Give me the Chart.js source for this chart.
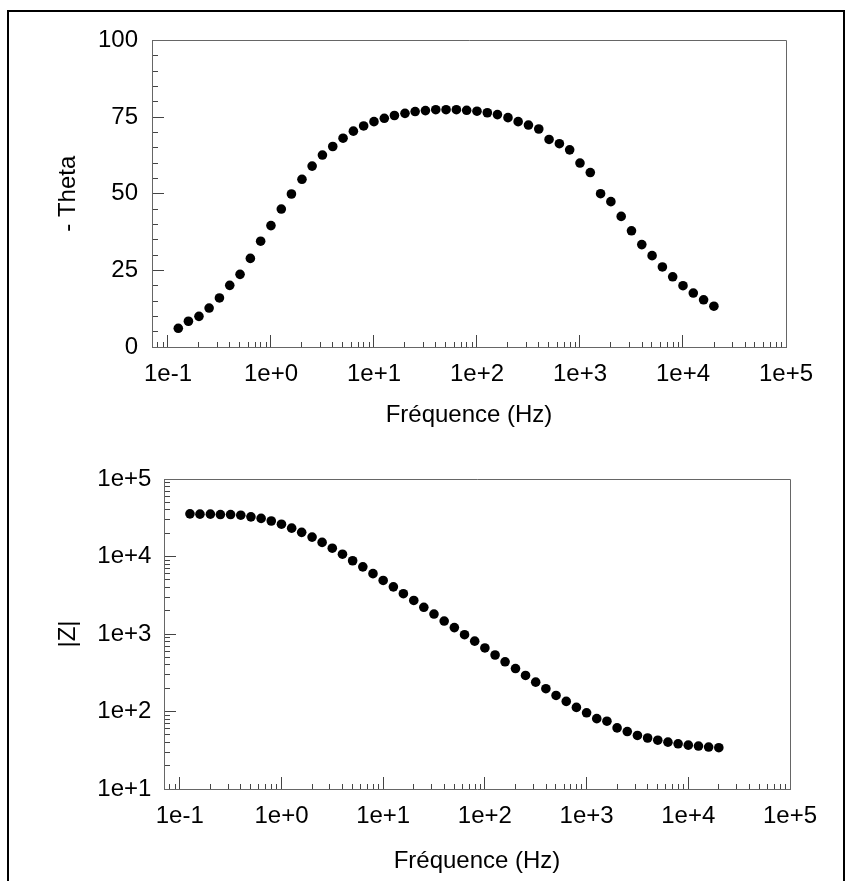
<!DOCTYPE html>
<html>
<head>
<meta charset="utf-8">
<script src="https://cdn.jsdelivr.net/npm/chart.js@4"></script>
<style>
  html, body { margin: 0; padding: 0; background: #fff; }
  body { width: 851px; height: 881px; position: relative; overflow: hidden; }
  #frame { position: absolute; left: 7px; top: 10px; width: 834px; height: 900px;
           border-top: 2px solid #000; border-left: 2px solid #000; border-right: 2px solid #000; }
  canvas { position: absolute; left: 0; }
  #phase { top: 0; }
  #modulus { top: 440px; }
</style>
</head>
<body>
<div id="frame"></div>
<canvas id="phase" width="851" height="440"></canvas>
<canvas id="modulus" width="851" height="441"></canvas>
<script>
// frequencies (Hz), 10 points per decade
const FREQ = [0.126, 0.158, 0.2, 0.251, 0.316, 0.398, 0.501, 0.631, 0.794,
  1, 1.26, 1.58, 2, 2.51, 3.16, 3.98, 5.01, 6.31, 7.94,
  10, 12.6, 15.8, 20, 25.1, 31.6, 39.8, 50.1, 63.1, 79.4,
  100, 126, 158, 200, 251, 316, 398, 501, 631, 794,
  1000, 1259, 1585, 1995, 2512, 3162, 3981, 5012, 6310, 7943,
  10000, 12589, 15849, 19953];

// - Theta (deg)
const THETA = [6.1, 8.4, 10.0, 12.7, 16.0, 20.1, 23.7, 28.9, 34.5,
  39.6, 45.0, 49.9, 54.7, 59.0, 62.6, 65.4, 68.1, 70.4, 72.1,
  73.5, 74.6, 75.5, 76.2, 76.8, 77.1, 77.4, 77.4, 77.4, 77.2,
  76.9, 76.4, 75.8, 74.8, 73.5, 72.4, 71.1, 67.7, 66.3, 64.3,
  60.0, 56.9, 50.0, 47.4, 42.6, 37.9, 33.4, 29.8, 26.1, 22.9,
  20.0, 17.6, 15.4, 13.3];

// |Z| (ohm)
const MODZ = [35500, 35200, 35200, 34800, 34800, 34100, 32500, 31000, 28700,
  26100, 23200, 20500, 17800, 15200, 12800, 10700, 8810, 7350, 6010,
  4910, 4060, 3310, 2710, 2210, 1810, 1470, 1210, 980, 809,
  661, 536, 438, 358, 292, 239, 197, 161, 135, 113,
  96.2, 80.9, 75.0, 61.4, 55.1, 49.1, 45.5, 42.6, 40.2, 38.3,
  36.8, 35.8, 34.8, 34.1];

const X_MIN = 0.07, X_MAX = 100000;
const X_DECADES = [0.1, 1, 10, 100, 1000, 10000, 100000];
const X_LABELS = ['1e-1', '1e+0', '1e+1', '1e+2', '1e+3', '1e+4', '1e+5'];
const THETA_MAJOR = [0, 25, 50, 75, 100];
const THETA_LABELS = ['0', '25', '50', '75', '100'];
const Z_DECADES = [10, 100, 1000, 10000, 100000];
const Z_LABELS = ['1e+1', '1e+2', '1e+3', '1e+4', '1e+5'];

const FONT = { family: 'Liberation Sans, Arial, sans-serif', size: 24 };
const AXIS_GREY = '#666666';
const TICK_GREY = '#444444';

function logTicks(min, max) {
  const out = [];
  for (let e = -3; e <= 6; e++) {
    for (let m = 1; m <= 9; m++) {
      const v = m * Math.pow(10, e);
      if (v >= min * 0.9999 && v <= max * 1.0001) out.push({ value: v });
    }
  }
  return out;
}
function findIn(list, v) {
  return list.findIndex(d => Math.abs(d - v) <= Math.abs(d) * 1e-6 + 1e-9);
}

// top and right lines of the plot box
const framePlugin = {
  id: 'frame',
  afterDraw(chart) {
    const { ctx, chartArea: a } = chart;
    ctx.save();
    ctx.strokeStyle = AXIS_GREY;
    ctx.lineWidth = 1;
    ctx.beginPath();
    ctx.moveTo(a.left, Math.round(a.top) + 0.5);
    ctx.lineTo(Math.round(a.right) + 0.5, Math.round(a.top) + 0.5);
    ctx.lineTo(Math.round(a.right) + 0.5, a.bottom);
    ctx.stroke();
    ctx.restore();
  }
};

function freqAxis(height, titlePad) {
  return {
    type: 'logarithmic', position: 'bottom', min: X_MIN, max: X_MAX,
    afterBuildTicks: s => { s.ticks = logTicks(X_MIN, X_MAX); },
    afterFit: s => { s.height = height; },
    border: { color: AXIS_GREY, width: 1 },
    grid: {
      drawOnChartArea: false, drawTicks: true, tickLength: -12,
      tickColor: TICK_GREY, tickWidth: 1,
      tickBorderDash: c => (c.tick && findIn(X_DECADES, c.tick.value) >= 0) ? [] : [6, 100]
    },
    ticks: {
      autoSkip: false, maxRotation: 0, minRotation: 0, padding: 25, color: '#000', font: FONT,
      callback: v => { const i = findIn(X_DECADES, v); return i >= 0 ? X_LABELS[i] : ''; }
    },
    title: { display: true, text: 'Fréquence (Hz)', color: '#000', font: FONT,
             padding: { top: 0, bottom: titlePad } }
  };
}

const common = {
  responsive: false, animation: false, devicePixelRatio: 1, events: [],
  plugins: { legend: { display: false }, tooltip: { enabled: false } }
};

new Chart(document.getElementById('phase'), {
  type: 'scatter',
  data: { datasets: [{
    data: FREQ.map((f, i) => ({ x: f, y: THETA[i] })),
    pointRadius: 4.8, backgroundColor: '#000', borderWidth: 0
  }] },
  options: Object.assign({}, common, {
    layout: { padding: { top: 33, right: 65, left: 0, bottom: 0 } },
    scales: {
      x: freqAxis(93, 10),
      y: {
        type: 'linear', position: 'left', min: 0, max: 100,
        afterBuildTicks: s => { const t = []; for (let v = 0; v <= 100; v += 5) t.push({ value: v }); s.ticks = t; },
        afterFit: s => { s.width = 152; },
        border: { color: AXIS_GREY, width: 1 },
        grid: {
          drawOnChartArea: false, drawTicks: true, tickLength: -12,
          tickColor: TICK_GREY, tickWidth: 1,
          tickBorderDash: c => (c.tick && THETA_MAJOR.includes(c.tick.value)) ? [] : [0, 6, 20, 0]
        },
        ticks: {
          autoSkip: false, padding: 26, color: '#000', font: FONT,
          callback: v => { const i = THETA_MAJOR.indexOf(v); return i >= 0 ? THETA_LABELS[i] : ''; }
        },
        title: { display: true, text: '- Theta', color: '#000', font: FONT, padding: { top: 53.6, bottom: 0 } }
      }
    }
  }),
  plugins: [framePlugin]
});

new Chart(document.getElementById('modulus'), {
  type: 'scatter',
  data: { datasets: [{
    data: FREQ.map((f, i) => ({ x: f, y: MODZ[i] })),
    pointRadius: 4.8, backgroundColor: '#000', borderWidth: 0
  }] },
  options: Object.assign({}, common, {
    layout: { padding: { top: 29, right: 61, left: 0, bottom: 0 } },
    scales: {
      x: freqAxis(92, 4.9),
      y: {
        type: 'logarithmic', position: 'left', min: 10, max: 100000,
        afterBuildTicks: s => { s.ticks = logTicks(10, 100000); },
        afterFit: s => { s.width = 164; },
        border: { color: AXIS_GREY, width: 1 },
        grid: {
          drawOnChartArea: false, drawTicks: true, tickLength: -12,
          tickColor: TICK_GREY, tickWidth: 1,
          tickBorderDash: c => (c.tick && findIn(Z_DECADES, c.tick.value) >= 0) ? [] : [0, 6, 20, 0]
        },
        ticks: {
          autoSkip: false, padding: 24.6, color: '#000', font: FONT,
          callback: v => { const i = findIn(Z_DECADES, v); return i >= 0 ? Z_LABELS[i] : ''; }
        },
        title: { display: true, text: '|Z|', color: '#000', font: FONT, padding: { top: 53.6, bottom: 0 } }
      }
    }
  }),
  plugins: [framePlugin]
});
</script>
</body>
</html>
